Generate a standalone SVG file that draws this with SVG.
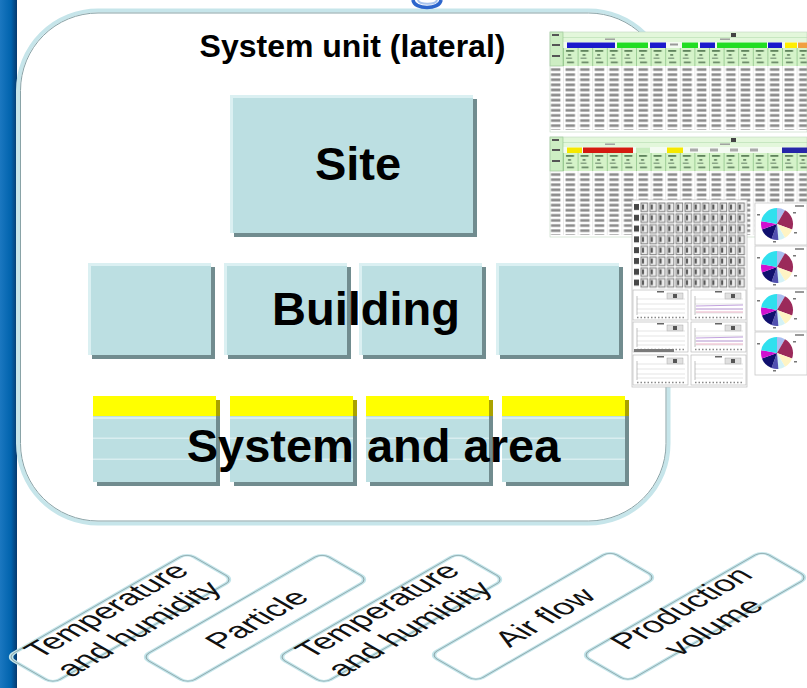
<svg xmlns="http://www.w3.org/2000/svg" xmlns:xlink="http://www.w3.org/1999/xlink" width="807" height="688" viewBox="0 0 807 688">
<style>
.t{font-family:"Liberation Sans",Arial,sans-serif;font-weight:bold;fill:#000}
.lbl{font-family:"Liberation Sans",Arial,sans-serif;font-size:31px;fill:#111;text-anchor:middle}
.box{fill:#bcdfe2}
.shd{fill:#718c8f}
.hl{fill:#dbf0f2}
.yel{fill:#ffff00}
.yshd{fill:#aaa200}
.ln{fill:#d9eef0}
.isoA{fill:none;stroke:#c3e5ea;stroke-width:3.6}
.isoB{fill:none;stroke:#8ea7ab;stroke-width:0.9}
</style>
<defs>
<linearGradient id="gBar" x1="0" y1="0" x2="1" y2="0">
<stop offset="0" stop-color="#1b77c0"/>
<stop offset="0.65" stop-color="#0063ad"/>
<stop offset="1" stop-color="#06396e"/>
</linearGradient>
<pattern id="pDat" patternUnits="userSpaceOnUse" x="563" y="67" width="14.6" height="5.1">
<rect x="0" y="0" width="0.6" height="5.1" fill="#dcdcdc"/>
<rect x="2.5" y="1.2" width="9.5" height="2.7" fill="#8c8c8c"/>
</pattern>
<pattern id="pHdr" patternUnits="userSpaceOnUse" x="563" y="48" width="14.6" height="18">
<rect width="14.6" height="18" fill="#d5f3c9"/>
<rect width="0.8" height="18" fill="#8fc48a"/>
<rect x="3" y="2" width="8" height="1.8" fill="#5f835c"/>
<rect x="5" y="6" width="3" height="1.8" fill="#6f8f6c"/>
<rect x="3" y="9.5" width="6" height="1.5" fill="#8aa587"/>
<rect x="4" y="13.5" width="7" height="1.8" fill="#6f8f6c"/>
</pattern>
<pattern id="pGrid" patternUnits="userSpaceOnUse" x="640" y="202" width="8.8" height="10.8">
<rect x="1" y="1" width="6.5" height="8.5" fill="#ececec" stroke="#808080" stroke-width="1"/>
<rect x="2" y="2.5" width="2" height="5" fill="#555"/>
</pattern>
<pattern id="pGridL" patternUnits="userSpaceOnUse" x="633" y="202" width="7" height="10.8">
<rect x="1" y="2" width="5" height="6" fill="#474747"/>
</pattern>
<g id="sheetBody">
<rect x="550" y="32" width="257" height="100" fill="#fff"/>
<rect x="550" y="32" width="257" height="10" fill="#e3f7db"/>
<rect x="563" y="37" width="244" height="0.6" fill="#b5dcb0"/>
<rect x="563" y="42" width="244" height="6" fill="#f4fbf2"/>
<rect x="563" y="48" width="244" height="18" fill="url(#pHdr)"/>
<rect x="563" y="66" width="244" height="64" fill="url(#pDat)"/>
<rect x="550" y="32" width="13" height="34" fill="#cdeec3" stroke="#8fc48a" stroke-width="0.6"/>
<rect x="552" y="34" width="7" height="2" fill="#555"/>
<rect x="552" y="44" width="8" height="2" fill="#555"/>
<rect x="552" y="55" width="8" height="2" fill="#555"/>
<rect x="550" y="66" width="13" height="64" fill="url(#pDat)"/>
<rect x="605" y="38.5" width="10" height="1.4" fill="#999"/>
<rect x="720" y="38.5" width="10" height="1.4" fill="#999"/>
<rect x="731" y="33" width="5" height="4" fill="#444"/>
<rect x="550" y="32" width="257" height="100" fill="none" stroke="#c0d8c0" stroke-width="0.6"/>
</g>
<g id="panel">
<rect x="0" y="0" width="55" height="30" fill="#fff" stroke="#b0b0b0" stroke-width="0.6"/>
<rect x="24" y="1" width="7" height="1.5" fill="#666"/>
<rect x="34" y="3" width="16" height="6" fill="#e0e0e0" stroke="#999" stroke-width="0.4"/>
<rect x="40" y="4" width="4" height="4" fill="#555"/>
<path d="M4,9H52M4,14H52M4,19H52M4,23H52" stroke="#d4d4d4" stroke-width="0.6"/>
<path d="M4,6V25" stroke="#999" stroke-width="0.6"/>
<path d="M4,27.5H52" stroke="#888" stroke-width="1.4" stroke-dasharray="1.5 2"/>
</g>
<g id="pie">
<path d="M0,0 L0,-16 A16,16 0 0 1 8,-13.86 Z" fill="#a9bdf0"/>
<path d="M0,0 L8,-13.86 A16,16 0 0 1 15.04,5.47 Z" fill="#9b2a5a"/>
<path d="M0,0 L15.04,5.47 A16,16 0 0 1 8,13.86 Z" fill="#fff4c4"/>
<path d="M0,0 L8,13.86 A16,16 0 0 1 1.39,15.94 Z" fill="#d4f2f6"/>
<path d="M0,0 L1.39,15.94 A16,16 0 0 1 -5.47,15.04 Z" fill="#5050b0"/>
<path d="M0,0 L-5.47,15.04 A16,16 0 0 1 -15.04,5.47 Z" fill="#10106e"/>
<path d="M0,0 L-15.04,5.47 A16,16 0 0 1 -15.76,-2.78 Z" fill="#d010d0"/>
<path d="M0,0 L-15.76,-2.78 A16,16 0 0 1 0,-16 Z" fill="#30e0ee"/>
<rect x="-20" y="-10" width="3" height="1.5" fill="#777"/>
<rect x="16" y="-12" width="3" height="1.5" fill="#777"/>
<rect x="17" y="8" width="3" height="1.5" fill="#777"/>
<rect x="-4" y="17" width="3" height="1.5" fill="#777"/>
<rect x="18" y="-19" width="9" height="2" fill="#999"/>
</g>
</defs>

<rect width="807" height="688" fill="#fff"/>

<g id="side-bar">
<rect x="0" y="0" width="17" height="688" fill="url(#gBar)"/>
</g>

<g id="frame">
<rect x="18" y="10.5" width="650.5" height="513" rx="80" fill="none" stroke="#c6e5ea" stroke-width="4"/>
<rect x="20.5" y="13" width="645.5" height="508" rx="77.5" fill="none" stroke="#89a3a7" stroke-width="1"/>
<text class="t" x="352.5" y="57" font-size="32" text-anchor="middle">System unit (lateral)</text>
</g>

<g id="top-mark">
<path d="M413,0 C414,10 440,10 441,0" fill="none" stroke="#2d66cc" stroke-width="3.5"/>
<path d="M418,0 C419,5 436,5 437,0" fill="none" stroke="#a8c4ee" stroke-width="2"/>
</g>

<g id="node-site">
<rect class="shd" x="234" y="99" width="243" height="138"/>
<rect class="box" x="230" y="95" width="243" height="138"/>
<rect class="hl" x="230" y="95" width="243" height="3"/>
<rect class="hl" x="230" y="95" width="3" height="138"/>
<text class="t" x="358" y="180" font-size="47" text-anchor="middle">Site</text>
</g>

<g id="node-building">
<rect class="shd" x="92" y="267" width="123" height="92"/>
<rect class="box" x="88" y="263" width="123" height="92"/>
<rect class="hl" x="88" y="263" width="123" height="3"/>
<rect class="hl" x="88" y="263" width="3" height="92"/>
<rect class="shd" x="228" y="267" width="123" height="92"/>
<rect class="box" x="224" y="263" width="123" height="92"/>
<rect class="hl" x="224" y="263" width="123" height="3"/>
<rect class="hl" x="224" y="263" width="3" height="92"/>
<rect class="shd" x="363" y="267" width="123" height="92"/>
<rect class="box" x="359" y="263" width="123" height="92"/>
<rect class="hl" x="359" y="263" width="123" height="3"/>
<rect class="hl" x="359" y="263" width="3" height="92"/>
<rect class="shd" x="500" y="267" width="123" height="92"/>
<rect class="box" x="496" y="263" width="123" height="92"/>
<rect class="hl" x="496" y="263" width="123" height="3"/>
<rect class="hl" x="496" y="263" width="3" height="92"/>
<text class="t" x="366" y="325" font-size="47" text-anchor="middle">Building</text>
</g>

<g id="node-system-area">
<rect class="shd" x="97" y="400" width="123" height="86"/>
<rect class="yshd" x="97" y="400" width="123" height="16"/>
<rect class="box" x="93" y="396" width="123" height="86"/>
<rect class="yel" x="93" y="396" width="123" height="20"/>
<rect class="ln" x="93" y="417" width="123" height="2"/>
<rect class="ln" x="93" y="437.5" width="123" height="1.5"/>
<rect class="ln" x="93" y="458.5" width="123" height="1.5"/>
<rect class="shd" x="234" y="400" width="123" height="86"/>
<rect class="yshd" x="234" y="400" width="123" height="16"/>
<rect class="box" x="230" y="396" width="123" height="86"/>
<rect class="yel" x="230" y="396" width="123" height="20"/>
<rect class="ln" x="230" y="417" width="123" height="2"/>
<rect class="ln" x="230" y="437.5" width="123" height="1.5"/>
<rect class="ln" x="230" y="458.5" width="123" height="1.5"/>
<rect class="shd" x="370" y="400" width="123" height="86"/>
<rect class="yshd" x="370" y="400" width="123" height="16"/>
<rect class="box" x="366" y="396" width="123" height="86"/>
<rect class="yel" x="366" y="396" width="123" height="20"/>
<rect class="ln" x="366" y="417" width="123" height="2"/>
<rect class="ln" x="366" y="437.5" width="123" height="1.5"/>
<rect class="ln" x="366" y="458.5" width="123" height="1.5"/>
<rect class="shd" x="506" y="400" width="123" height="86"/>
<rect class="yshd" x="506" y="400" width="123" height="16"/>
<rect class="box" x="502" y="396" width="123" height="86"/>
<rect class="yel" x="502" y="396" width="123" height="20"/>
<rect class="ln" x="502" y="417" width="123" height="2"/>
<rect class="ln" x="502" y="437.5" width="123" height="1.5"/>
<rect class="ln" x="502" y="458.5" width="123" height="1.5"/>
<text class="t" x="373.5" y="462" font-size="47" text-anchor="middle">System and area</text>
</g>

<g id="screenshots">
<rect x="547" y="32" width="260" height="206" fill="#fff"/>
<use xlink:href="#sheetBody"/>
<rect x="567" y="42.5" width="48" height="5.5" fill="#1a1acc"/>
<rect x="617" y="42.5" width="31" height="5.5" fill="#22dd22"/>
<rect x="650" y="42.5" width="16" height="5.5" fill="#1a1acc"/>
<rect x="670" y="43.5" width="8" height="2" fill="#999"/>
<rect x="682" y="42.5" width="16" height="5.5" fill="#22dd22"/>
<rect x="700" y="42.5" width="15" height="5.5" fill="#1a1acc"/>
<rect x="717" y="42.5" width="50" height="5.5" fill="#22dd22"/>
<rect x="768" y="42.5" width="14" height="5.5" fill="#1a1acc"/>
<rect x="785" y="42.5" width="12" height="5.5" fill="#ffee00"/>
<rect x="798" y="42.5" width="9" height="5.5" fill="#f0a040"/>
<use xlink:href="#sheetBody" transform="translate(0,105)"/>
<rect x="567" y="147.5" width="15" height="5.5" fill="#f5e800"/>
<rect x="583" y="147.5" width="50" height="5.5" fill="#d41a10"/>
<rect x="636" y="147.5" width="14" height="5.5" fill="#c8ecbe"/>
<rect x="667" y="147.5" width="16" height="5.5" fill="#f5e800"/>
<rect x="690" y="148.5" width="8" height="3" fill="#aaa"/>
<rect x="710" y="148.5" width="8" height="3" fill="#aaa"/>
<rect x="730" y="148.5" width="8" height="3" fill="#aaa"/>
<rect x="750" y="148.5" width="8" height="3" fill="#aaa"/>
<rect x="782" y="147.5" width="25" height="5.5" fill="#2626a8"/>
<rect x="632" y="200" width="115" height="187" fill="#fff" stroke="#c4c4c4" stroke-width="0.8"/>
<rect x="633" y="202" width="7" height="86" fill="url(#pGridL)"/>
<rect x="640" y="202" width="105.6" height="86.4" fill="url(#pGrid)"/>
<use xlink:href="#panel" transform="translate(633,290)"/>
<use xlink:href="#panel" transform="translate(691,290)"/>
<use xlink:href="#panel" transform="translate(633,322)"/>
<use xlink:href="#panel" transform="translate(691,322)"/>
<use xlink:href="#panel" transform="translate(633,355)"/>
<use xlink:href="#panel" transform="translate(691,355)"/>
<path d="M696,306 L743,305 M696,309 H743 M696,338 L743,337 M696,341 H743" stroke="#b38ad6" stroke-width="0.8" fill="none"/>
<path d="M696,312 H743 M696,344 H743" stroke="#e6a0b8" stroke-width="0.8" fill="none"/>
<rect x="634" y="349" width="40" height="3" fill="#7a7a7a"/>
<rect x="755" y="203" width="52" height="42" fill="#fff" stroke="#c8c8c8" stroke-width="0.8"/>
<rect x="755" y="246" width="52" height="42" fill="#fff" stroke="#c8c8c8" stroke-width="0.8"/>
<rect x="755" y="289" width="52" height="42" fill="#fff" stroke="#c8c8c8" stroke-width="0.8"/>
<rect x="755" y="332" width="52" height="43" fill="#fff" stroke="#c8c8c8" stroke-width="0.8"/>
<use xlink:href="#pie" transform="translate(777,224)"/>
<use xlink:href="#pie" transform="translate(777,267)"/>
<use xlink:href="#pie" transform="translate(777,310)"/>
<use xlink:href="#pie" transform="translate(777,353)"/>
</g>

<g id="connectors"/>

<g id="label-temp-humidity-1" transform="matrix(0.866,-0.5,0.866,0.5,7,657)">
<rect class="isoA" x="0" y="0" width="208" height="53" rx="8"/>
<rect class="isoB" x="0" y="0" width="208" height="53" rx="8"/>
<text class="lbl" x="104" y="21">Temperature</text>
<text class="lbl" x="104" y="58">and humidity</text>
</g>
<g id="label-particle" transform="matrix(0.866,-0.5,0.866,0.5,142,657)">
<rect class="isoA" x="0" y="0" width="208" height="53" rx="8"/>
<rect class="isoB" x="0" y="0" width="208" height="53" rx="8"/>
<text class="lbl" x="104" y="39">Particle</text>
</g>
<g id="label-temp-humidity-2" transform="matrix(0.866,-0.5,0.866,0.5,278,657)">
<rect class="isoA" x="0" y="0" width="208" height="53" rx="8"/>
<rect class="isoB" x="0" y="0" width="208" height="53" rx="8"/>
<text class="lbl" x="104" y="21">Temperature</text>
<text class="lbl" x="104" y="58">and humidity</text>
</g>
<g id="label-air-flow" transform="matrix(0.866,-0.5,0.866,0.5,430,655)">
<rect class="isoA" x="0" y="0" width="208" height="53" rx="8"/>
<rect class="isoB" x="0" y="0" width="208" height="53" rx="8"/>
<text class="lbl" x="104" y="39">Air flow</text>
</g>
<g id="label-production-volume" transform="matrix(0.866,-0.5,0.866,0.5,582,655)">
<rect class="isoA" x="0" y="0" width="208" height="53" rx="8"/>
<rect class="isoB" x="0" y="0" width="208" height="53" rx="8"/>
<text class="lbl" x="104" y="21">Production</text>
<text class="lbl" x="104" y="58">volume</text>
</g>
</svg>
